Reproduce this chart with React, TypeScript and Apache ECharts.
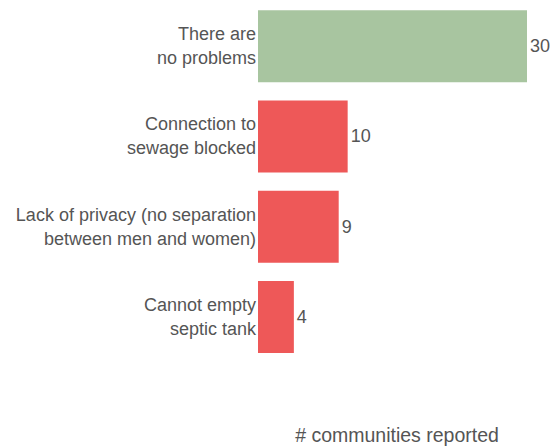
import React, { useEffect, useRef } from "react";
import * as echarts from "echarts";

const categories = [
  "There are\nno problems",
  "Connection to\nsewage blocked",
  "Lack of privacy (no separation\nbetween men and women)",
  "Cannot empty\nseptic tank",
];
const values = [30, 10, 9, 4];
const barColors = ["#a8c5a0", "#ee5858", "#ee5858", "#ee5858"];
const xAxisTitle = "# communities reported";

export default function App() {
  const ref = useRef<HTMLDivElement>(null);
  useEffect(() => {
    if (!ref.current) return;
    const chart = echarts.init(ref.current, null, { renderer: "svg" });
    chart.setOption({
      animation: false,
      textStyle: { fontFamily: "'Liberation Sans', Arial, sans-serif" },
      grid: {
        left: 258,
        top: 1,
        width: 269,
        height: 361,
        containLabel: false,
        outerBoundsMode: "none",
      },
      xAxis: {
        type: "value",
        min: 0,
        max: 30,
        axisLine: { show: false },
        axisTick: { show: false },
        axisLabel: { show: false },
        splitLine: { show: false },
        name: xAxisTitle,
        nameLocation: "middle",
        nameGap: 63,
        nameTextStyle: {
          fontSize: 19.5,
          color: "#555555",
          fontFamily: "'Liberation Sans', Arial, sans-serif",
          padding: [0, 0, 0, 9],
        },
      },
      yAxis: {
        type: "category",
        inverse: true,
        data: categories,
        axisLine: { show: false },
        axisTick: { show: false },
        axisLabel: {
          fontSize: 18,
          color: "#555555",
          fontFamily: "'Liberation Sans', Arial, sans-serif",
          margin: 2,
          lineHeight: 24,
          align: "right",
          padding: [4, 0, 0, 0],
        },
      },
      series: [
        {
          type: "bar",
          barWidth: 72,
          data: values.map((v, i) => ({ value: v, itemStyle: { color: barColors[i] } })),
          label: {
            show: true,
            position: "right",
            distance: 3,
            fontSize: 18,
            color: "#555555",
            fontFamily: "'Liberation Sans', Arial, sans-serif",
          },
        },
      ],
    });
    return () => chart.dispose();
  }, []);
  return (
    <div
      ref={ref}
      style={{ position: "fixed", left: 0, top: 0, width: 553, height: 446, background: "#fff" }}
    />
  );
}
